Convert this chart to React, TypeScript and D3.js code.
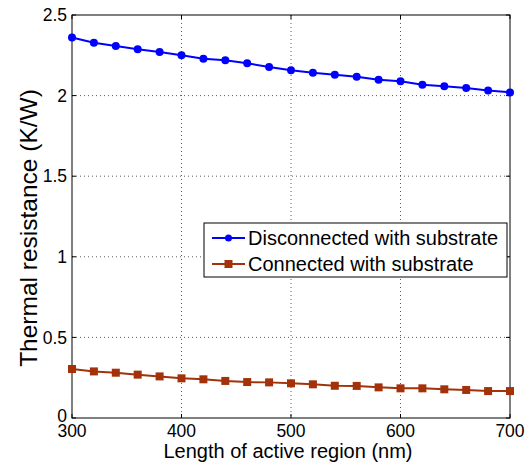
import * as d3 from "d3";

const lengths = [300, 320, 340, 360, 380, 400, 420, 440, 460, 480, 500, 520, 540, 560, 580, 600, 620, 640, 660, 680, 700];
const disconnected = [2.361, 2.328, 2.308, 2.287, 2.27, 2.25, 2.229, 2.219, 2.2, 2.177, 2.157, 2.142, 2.13, 2.117, 2.099, 2.089, 2.068, 2.058, 2.047, 2.031, 2.02];
const connected = [0.304, 0.289, 0.281, 0.269, 0.258, 0.246, 0.24, 0.23, 0.223, 0.221, 0.215, 0.209, 0.2, 0.199, 0.19, 0.184, 0.184, 0.178, 0.174, 0.167, 0.167];
const xTicks = [300, 400, 500, 600, 700];
const yTicks = [0, 0.5, 1, 1.5, 2, 2.5];
const seriesNames = ["Disconnected with substrate", "Connected with substrate"];

const W = 527;
const H = 468;
const MARGIN = { top: 15, right: 17, bottom: 50, left: 72 };
const BLUE = "#0000ff";
const RED = "#a3320b";
const FONT = "'Liberation Sans', Arial, sans-serif";

export default function App() {
  const boundsWidth = W - MARGIN.left - MARGIN.right;
  const boundsHeight = H - MARGIN.top - MARGIN.bottom;

  const xScale = d3.scaleLinear().domain([300, 700]).range([0, boundsWidth]);
  const yScale = d3.scaleLinear().domain([0, 2.5]).range([boundsHeight, 0]);

  const line = d3
    .line<number>()
    .x((_, i) => xScale(lengths[i]))
    .y((d) => yScale(d));

  return (
    <svg
      width={W}
      height={H}
      style={{ position: "absolute", left: 0, top: 0, background: "#fff" }}
      fontFamily={FONT}
    >
      <g transform={`translate(${MARGIN.left}, ${MARGIN.top})`}>
        {/* grid */}
        {xTicks.slice(1, -1).map((t) => (
          <line key={"gx" + t} x1={xScale(t)} x2={xScale(t)} y1={0} y2={boundsHeight} stroke="#333" strokeWidth={0.8} strokeDasharray="1,3" />
        ))}
        {yTicks.slice(1, -1).map((t) => (
          <line key={"gy" + t} x1={0} x2={boundsWidth} y1={yScale(t)} y2={yScale(t)} stroke="#333" strokeWidth={0.8} strokeDasharray="1,3" />
        ))}

        {/* ticks */}
        {xTicks.map((t) => (
          <g key={"tx" + t}>
            <line x1={xScale(t)} x2={xScale(t)} y1={boundsHeight} y2={boundsHeight - 4} stroke="#000" />
            <line x1={xScale(t)} x2={xScale(t)} y1={0} y2={4} stroke="#000" />
            <text x={xScale(t)} y={boundsHeight + 19} textAnchor="middle" fontSize={17.5} fill="#000">
              {t}
            </text>
          </g>
        ))}
        {yTicks.map((t) => (
          <g key={"ty" + t}>
            <line x1={0} x2={4} y1={yScale(t)} y2={yScale(t)} stroke="#000" />
            <line x1={boundsWidth} x2={boundsWidth - 4} y1={yScale(t)} y2={yScale(t)} stroke="#000" />
            <text x={-5} y={yScale(t) - (t === 0 ? 2 : 0)} dy="0.35em" textAnchor="end" fontSize={17.5} fill="#000">
              {t}
            </text>
          </g>
        ))}

        <rect x={0} y={0} width={boundsWidth} height={boundsHeight} fill="none" stroke="#000" strokeWidth={1} />

        {/* series */}
        <path d={line(disconnected) ?? ""} fill="none" stroke={BLUE} strokeWidth={2} />
        {disconnected.map((v, i) => (
          <circle key={"b" + i} cx={xScale(lengths[i])} cy={yScale(v)} r={4} fill={BLUE} />
        ))}
        <path d={line(connected) ?? ""} fill="none" stroke={RED} strokeWidth={2} />
        {connected.map((v, i) => (
          <rect key={"r" + i} x={xScale(lengths[i]) - 4} y={yScale(v) - 4} width={8} height={8} fill={RED} />
        ))}

        {/* legend */}
        <g transform={`translate(${204 - MARGIN.left}, ${223 - MARGIN.top})`}>
          <rect x={0} y={0} width={303} height={54} fill="#fff" stroke="#000" strokeWidth={1} />
          {seriesNames.map((name, i) => {
            const color = i === 0 ? BLUE : RED;
            const cy = 15 + i * 26;
            return (
              <g key={name}>
                <line x1={8} x2={41} y1={cy} y2={cy} stroke={color} strokeWidth={2} />
                {i === 0 ? (
                  <circle cx={24.5} cy={cy} r={3.5} fill={color} />
                ) : (
                  <rect x={20.5} y={cy - 4} width={8} height={8} fill={color} />
                )}
                <text x={44} y={cy} dy="0.35em" fontSize={20} fill="#000">
                  {name}
                </text>
              </g>
            );
          })}
        </g>

        {/* axis titles */}
        <text x={boundsWidth / 2 - 3} y={boundsHeight + 40} textAnchor="middle" fontSize={20} fill="#000">
          Length of active region (nm)
        </text>
        <text
          transform={`translate(${37 - MARGIN.left}, ${228 - MARGIN.top}) rotate(-90)`}
          textAnchor="middle"
          fontSize={24.5}
          fill="#000"
        >
          Thermal resistance (K/W)
        </text>
      </g>
    </svg>
  );
}
